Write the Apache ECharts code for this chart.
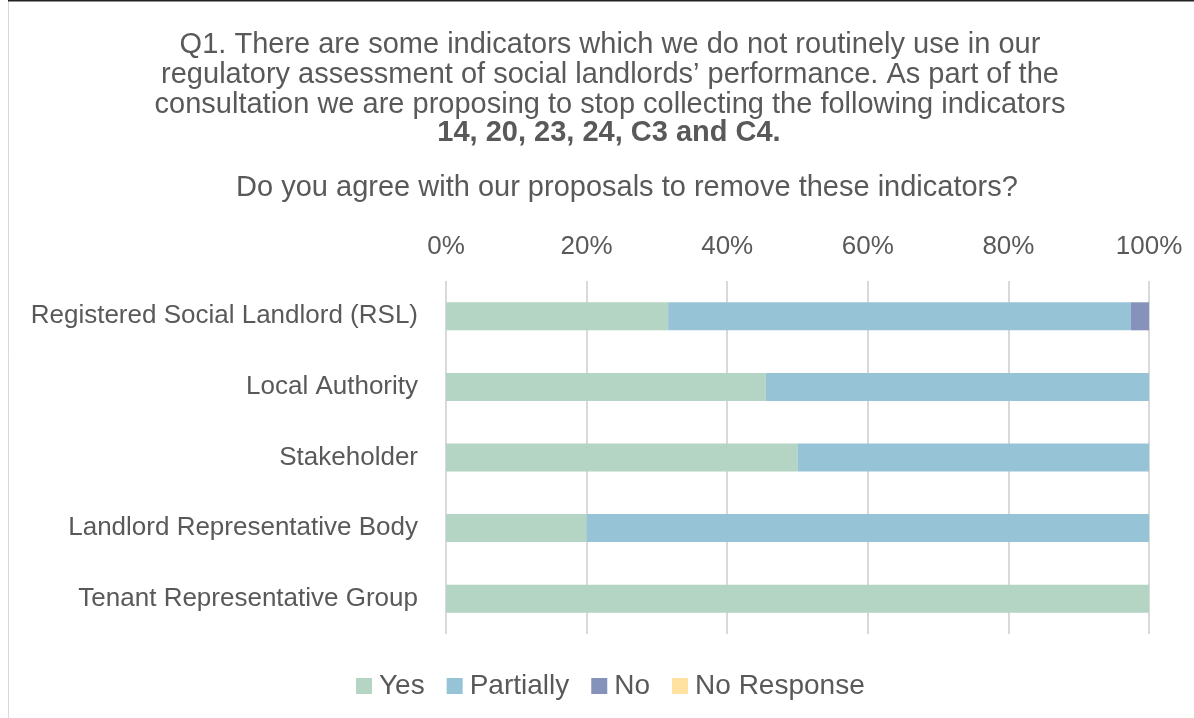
<!DOCTYPE html>
<html>
<head>
<meta charset="utf-8">
<script src="https://cdn.jsdelivr.net/npm/echarts@6/dist/echarts.min.js"></script>
<style>
  html, body { margin: 0; padding: 0; background: #ffffff; }
  #chart { width: 1194px; height: 718px; }
</style>
</head>
<body>
<div id="chart"></div>
<script>
// Respondent groups (top to bottom)
const categories = [
  'Registered Social Landlord (RSL)',
  'Local Authority',
  'Stakeholder',
  'Landlord Representative Body',
  'Tenant Representative Group'
];

// Share of responses per group, in percent
const yesValues        = [31.6, 45.5, 50, 20, 100];
const partiallyValues  = [65.8, 54.5, 50, 80, 0];
const noValues         = [2.6, 0, 0, 0, 0];
const noResponseValues = [0, 0, 0, 0, 0];

const seriesNames = ['Yes', 'Partially', 'No', 'No Response'];
const seriesColors = ['#b4d4c4', '#96c4d6', '#8592b9', '#ffe2a0'];

const titleLines = [
  'Q1. There are some indicators which we do not routinely use in our',
  'regulatory assessment of social landlords\u2019 performance. As part of the',
  'consultation we are proposing to stop collecting the following indicators'
];
const titleBoldLine = '14, 20, 23, 24, C3 and C4.';
const questionLine = 'Do you agree with our proposals to remove these indicators?';

const textColor = '#595959';
const fontFamily = 'Liberation Sans, Arial, sans-serif';
const titleSize = 29;

const chart = echarts.init(document.getElementById('chart'), null, { renderer: 'canvas' });

const titleTops = [25, 55, 85];
const titles = titleLines.map((t, i) => ({
  text: t,
  left: 605,
  top: titleTops[i],
  textAlign: 'center',
  textStyle: { color: textColor, fontSize: titleSize, fontWeight: 'normal', fontFamily: fontFamily }
}));
titles.push({
  text: titleBoldLine,
  left: 604,
  top: 113,
  textAlign: 'center',
  textStyle: { color: textColor, fontSize: titleSize, fontWeight: 'bold', fontFamily: fontFamily }
});
titles.push({
  text: questionLine,
  left: 622,
  top: 168,
  textAlign: 'center',
  textStyle: { color: textColor, fontSize: titleSize, fontWeight: 'normal', fontFamily: fontFamily }
});

const dataSets = [yesValues, partiallyValues, noValues, noResponseValues];

chart.setOption({
  backgroundColor: '#ffffff',
  animation: false,
  title: titles,
  graphic: [
    {
      type: 'rect',
      shape: { x: 8.5, y: 0.5, width: 1200, height: 730 },
      style: { fill: 'none', stroke: '#d9d9d9', lineWidth: 1 },
      z: -1
    },
    {
      type: 'line',
      shape: { x1: 8, y1: 0.5, x2: 1194, y2: 0.5 },
      style: { stroke: '#222222', lineWidth: 2 },
      z: -1
    }
  ],
  legend: {
    data: seriesNames,
    top: 667,
    left: 351,
    itemWidth: 16,
    itemHeight: 16,
    itemGap: 22,
    icon: 'rect',
    textStyle: { color: textColor, fontSize: 28, fontFamily: fontFamily, padding: [0, 0, 0, 2] }
  },
  grid: { left: 446, right: 45, top: 281, bottom: 84, containLabel: false },
  xAxis: {
    type: 'value',
    position: 'top',
    min: 0,
    max: 100,
    interval: 20,
    axisLine: { show: false },
    axisTick: { show: false },
    axisLabel: {
      formatter: '{value}%',
      color: textColor,
      fontSize: 26,
      fontFamily: fontFamily,
      margin: 21
    },
    splitLine: { show: true, lineStyle: { color: '#d9d9d9', width: 2 } }
  },
  yAxis: {
    type: 'category',
    data: categories,
    inverse: true,
    axisLine: { show: false },
    axisTick: { show: false },
    axisLabel: {
      color: textColor,
      fontSize: 26,
      fontFamily: fontFamily,
      margin: 28
    }
  },
  series: seriesNames.map((name, i) => ({
    name: name,
    type: 'bar',
    stack: 'total',
    data: dataSets[i],
    barWidth: 28,
    itemStyle: { color: seriesColors[i] }
  }))
});
</script>
</body>
</html>
